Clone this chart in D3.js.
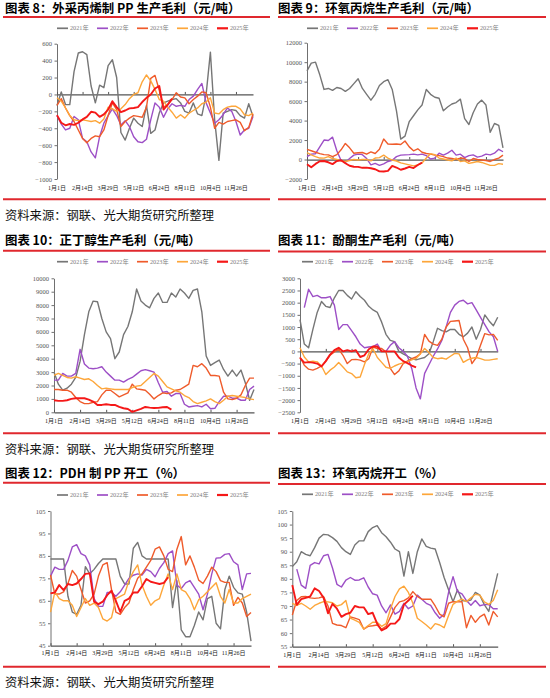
<!DOCTYPE html>
<html><head><meta charset="utf-8">
<script src="https://cdn.jsdelivr.net/npm/d3@7"></script>
<style>body{margin:0;background:#fff} svg{display:block}</style>
</head><body>
<svg id="c" width="550" height="698"></svg>
<script>
// ---------- categories / labels ----------
const years = ["2021年","2022年","2023年","2024年","2025年"];
const xTickLabels = ["1月1日","2月14日","3月29日","5月12日","6月24日","8月11日","10月4日","11月26日"];
const xTickIdx = [0,6,12,18,24,30,36,42];
const weekCount = 47;

// ---------- 图表8 外采丙烯制PP生产毛利 ----------
const p8_2021 = [-130,30,-120,-120,270,490,505,470,100,-100,110,80,340,410,200,-450,-540,-400,-280,-340,-380,-130,-460,-420,-220,-100,-80,-60,-50,-100,-200,-220,-100,-230,-250,0,500,-300,-780,-220,-200,-180,-190,-250,-280,-110,-260];
const p8_2022 = [-250,-350,-420,-400,-260,-300,-520,-560,-680,-750,-500,-340,-250,-170,-250,-360,-310,-380,-500,-560,-570,-530,-300,-100,-150,-270,-170,-110,-140,-130,-140,-60,-20,60,130,-100,-220,-340,-300,-240,-160,-200,-320,-480,-420,-400,-260];
const p8_2023 = [-130,-50,-160,-250,-320,-420,-520,-570,-520,-490,-500,-420,-250,-100,-180,-380,-320,-280,-250,-260,-270,-150,190,225,50,-150,-120,-60,20,-30,-40,-110,-60,-20,30,20,-150,-400,-330,-350,-320,-310,-300,-330,-430,-390,-230];
const p8_2024 = [-40,-80,-160,-250,-300,-310,-300,-310,-320,-310,-340,-290,-150,-170,-200,-170,-120,-50,0,20,150,230,160,60,-60,-80,-150,-210,-280,-240,-280,-220,-190,-160,-110,-90,-40,-220,-230,-180,-150,-140,-140,-170,-240,-250,-220];
const p8_2025 = [-245,-335,-365,-350,-360,-335,-295,-265,-205,-215,-265,-235,-180,-80,-150,-210,-190,-165,-160,-150,-90,-40,0,70,100,-180,-120,-50];

// ---------- 图表9 环氧丙烷生产毛利 ----------
const p9_2021 = [9100,9900,10000,8700,7200,7300,7100,7400,7300,7000,7300,7800,8300,7300,6700,6100,6700,7600,8000,8200,7200,5000,2100,2400,3900,4500,5100,5600,7200,6700,6400,6300,5000,5400,5700,5850,6200,4200,3600,4800,5700,6100,5600,2800,3700,3500,1200];
const p9_2022 = [300,550,600,1300,2000,1950,2300,900,-100,-300,100,450,550,500,100,-550,-400,-600,-450,-200,-80,300,450,480,500,550,480,550,400,50,150,650,450,650,950,450,550,200,400,480,250,350,550,480,650,1050,800];
const p9_2023 = [1050,900,750,600,500,480,300,500,1000,1650,1200,650,700,720,550,780,620,1050,2100,1600,1570,1600,1550,1900,1300,900,1100,750,620,550,450,400,300,150,100,0,150,100,-200,100,0,-50,-100,-200,0,150,450];
const p9_2024 = [700,480,300,150,140,300,100,0,-140,-200,-100,0,-50,0,0,-140,150,200,450,150,-50,-150,-350,-450,-550,-650,-550,-350,150,600,500,150,50,-50,-140,140,-200,-140,-400,-300,-200,-300,-450,-600,-600,-420,-480];
const p9_2025 = [-480,-800,-450,-180,-150,-280,-470,-160,-80,-380,-640,-740,-750,-850,-830,-900,-1000,-1220,-1230,-1160,-650,-820,-1050,-920,-760,-880,-560,-320];

// ---------- 图表10 正丁醇生产毛利 ----------
const p10_2021 = [3000,2100,1650,1800,2100,2600,3800,5800,7500,8300,8250,7000,6000,5500,4000,4500,5800,6400,7500,9200,8300,8000,7800,8500,8900,8200,8200,8900,8600,9200,8900,8500,9100,9200,7500,4200,3500,3700,3900,3200,2700,3150,2700,3150,2200,900,1700];
const p10_2022 = [2400,2400,2900,2700,2700,2900,4700,3600,3300,3250,3300,3400,3000,2700,2400,2400,2250,2450,2600,2850,3100,3180,3100,3000,2200,1500,1550,1200,1400,1400,600,400,450,500,400,600,270,300,800,1200,1200,1050,1050,900,900,1700,1950];
const p10_2023 = [1700,1700,1650,1650,1500,1100,800,650,650,750,800,1300,1650,1650,1400,1150,1300,1450,2100,1750,1700,1650,1350,1000,1250,1450,1400,1450,1650,1700,1900,2100,3500,3400,3630,3300,2750,2750,2700,1500,1000,950,1050,1300,2000,2550,2550];
const p10_2024 = [2750,2900,2750,2600,2550,2650,2550,2450,2500,2300,2000,1750,1800,1750,1700,1700,1700,1700,1850,1950,2000,2300,2600,2900,2700,2300,1900,1750,1600,1500,1250,1100,800,650,750,850,1000,800,650,900,1200,1250,1200,1150,1100,1000,950];
const p10_2025 = [900,850,850,900,1000,1050,1050,1050,950,800,550,550,600,550,550,400,300,250,30,150,250,400,350,320,330,380,400,200];

// ---------- 图表11 酚酮生产毛利 ----------
const p11_2021 = [1300,300,150,900,1600,2050,1850,1800,2200,2500,2500,2300,2150,2450,2250,2100,1850,1700,1600,1200,700,450,400,0,-100,-200,-300,-350,-300,-250,-100,400,950,850,800,900,900,700,600,750,1000,500,900,1500,1250,1050,1400];
const p11_2022 = [null,1800,2550,2250,2300,2200,2200,2250,1900,900,1100,1100,850,600,300,150,180,200,300,0,0,250,400,150,0,-200,-700,-1500,-1950,-900,-550,-200,100,450,1000,1600,1900,2050,2100,1950,2000,1700,1400,1100,800,600,0];
const p11_2023 = [-230,-570,-730,-770,-700,-600,-400,-160,-20,90,-160,-500,-340,-330,-360,-430,-300,180,120,120,-20,-700,-950,-800,-500,-400,-300,-230,-100,700,420,300,250,500,1000,1230,1250,1270,500,150,-500,-250,250,730,680,700,450];
const p11_2024 = [150,-230,-430,-400,-430,-600,-950,-770,-640,-460,-640,-840,-910,-1080,-1050,-540,-100,100,-250,-450,-650,-700,-600,-520,-470,-420,-350,-290,-100,120,-50,-250,-300,-270,-320,-200,-80,-100,-450,-350,-280,-250,-300,-360,-360,-330,-300];
const p11_2025 = [-270,-460,-440,-460,-500,-620,-400,-130,50,150,0,50,0,50,-230,-160,90,200,200,0,0,0,0,-250,-400,-480,-580,-660];

// ---------- 图表12 PDH制PP开工 ----------
const p12_2021 = [83.6,83.6,83.6,83.6,67,60,59,63,80.2,77,79,81.6,83.6,83.6,83.6,83.6,76,72.5,72.5,88.4,91,85,83.6,83.6,83.6,83.6,83.6,83.6,62,74,52,49,49,54,60,56.5,66,67,55,52.5,70,76,71,68.5,68,60,47];
const p12_2022 = [76,80,79,79,83,89,90,86,85,81,66,62.5,62.5,68.7,68.7,67,69,72,75,76.4,77,76.5,79,78,75.7,79.4,82,86,87.2,72,70.5,73,74,71,68,61,68,77,84,84.2,85.7,86,82.4,81,70,77,77.2];
const p12_2023 = [76.5,68,68,69,72.7,78.5,76,70,64,65,68,76,81,82,70,60,59,62,64,70,75,77,80,83,88,89,85,79,78,88,93.6,81,85,80,74.2,72.7,76,80,78,74,73.2,73.2,63,66.5,64,58,59.8];
const p12_2024 = [60,69,66,65,65,63,58,62,66,63,64,62,57,56,57.5,66,67,68,74,78,81,72,67,63,65,66,72,77,70,77,70,69,66,61,65.5,67,69,71,73,67,64,70,64,64,66,67,68];
const p12_2025 = [68.3,68.7,72,69.8,72.5,72,72.7,74.7,77,77.2,64.6,63.5,64.6,67.5,69.5,65,60,65,66,68.7,68.7,71.5,74.7,73.5,73,72.5,73,75.5];

// ---------- 图表13 环氧丙烷开工 ----------
const p13_2021 = [84.5,86.3,90,89,88.5,91.5,95,96.4,96.2,95.2,93.8,91.5,90,89,92.5,94,94,97.4,98.9,99.6,97,95.5,93.5,91,90,81,90,82,90,94.7,92,91.3,91,86,80.5,76,71.6,76,72,71.8,72.2,75,74,70.5,68,75,82];
const p13_2022 = [null,83.6,77.7,76.5,85,86,85.5,88.5,89,84,78,77,79.5,80.5,79.5,79.6,80.4,77,74.5,74,70,67.5,70.4,67,68,71,69,70,74,72.5,71,70.2,67.5,65.5,67,75,80.8,75.3,74.5,72,70.3,72,70.1,70.5,70.5,69,69];
const p13_2023 = [66.7,72,73.4,73.5,73,72.8,73,73.5,70,63.6,63,62.8,62,66,65.5,65,61.5,62.5,62.7,63,61.5,62.5,66,69.5,71.5,72,73,75.3,73.5,72.5,72.5,72.5,70,67,66,71,71.6,71.5,71.6,62,66.5,64,66,67,63,68,66];
const p13_2024 = [71,70.2,71,70,68.8,70.2,71,71.6,71.5,71.2,70,70.5,72,65.5,64.8,64,61.5,62.8,64,64,62.5,63.5,69,73.5,76.3,77.3,75,71,65.5,64.3,63,61.5,63.5,63,62,66.5,70.6,71.8,72.5,71.6,73,74.3,74,71.5,70.6,72,76];
const p13_2025 = [77.7,70.4,72.5,73,73.5,76.5,75.5,73,67.3,70.8,69,66,67,67.5,70,69.5,69.5,67,67.5,63.5,61,61.8,63.5,63.5,65.2,70.5,72,73.8];

// ---------- styles ----------
const colors = ["#767676","#9d4fc6","#ef5b2b","#fda63a","#f51818"];
const widths = [1.4,1.4,1.4,1.4,1.9];
const RED = "#e0282e";
const serif = "'Liberation Serif','Noto Sans CJK SC',serif";
const cjk = "'Noto Sans CJK SC','Noto Sans',sans-serif";

const panels = [
  {title:"图表 8：外采丙烯制 PP 生产毛利（元/吨）", series:[p8_2021,p8_2022,p8_2023,p8_2024,p8_2025],
   yMin:-1000,yMax:600,yStep:200,axisAt:0, x0:57,x1:253,yT:43.7,yB:179, tx:5,ty:12.7, rl:[3,270],rlY:17,bY:199.3, lgX:57,lgY:28.3, xlY:188.3},
  {title:"图表 9：环氧丙烷生产毛利（元/吨）", series:[p9_2021,p9_2022,p9_2023,p9_2024,p9_2025],
   yMin:-2000,yMax:12000,yStep:2000,axisAt:0, x0:307,x1:503,yT:42.7,yB:179, tx:278,ty:12.7, rl:[278,546],rlY:17,bY:199.3, lgX:307,lgY:28.3, xlY:188.3},
  {title:"图表 10：正丁醇生产毛利（元/吨）", series:[p10_2021,p10_2022,p10_2023,p10_2024,p10_2025],
   yMin:0,yMax:10000,yStep:1000,axisAt:0, x0:54,x1:254,yT:278.3,yB:412.3, tx:5,ty:245.3, rl:[3,270],rlY:250.8,bY:433.3, lgX:57,lgY:261.7, xlY:420.7},
  {title:"图表 11：酚酮生产毛利（元/吨）", series:[p11_2021,p11_2022,p11_2023,p11_2024,p11_2025],
   yMin:-2500,yMax:3000,yStep:500,axisAt:0, x0:300,x1:497.7,yT:278.3,yB:412.3, tx:278,ty:245.3, rl:[278,546],rlY:251.5,bY:433.3, lgX:302,lgY:261.7, xlY:420.7},
  {title:"图表 12：PDH 制 PP 开工（%）", series:[p12_2021,p12_2022,p12_2023,p12_2024,p12_2025],
   yMin:45,yMax:105,yStep:10,axisAt:45, x0:50.5,x1:251,yT:511,yB:645.7, tx:5,ty:478.3, rl:[3,270],rlY:482.8,bY:666.7, lgX:57,lgY:495, xlY:653.3},
  {title:"图表 13：环氧丙烷开工（%）", series:[p13_2021,p13_2022,p13_2023,p13_2024,p13_2025],
   yMin:55,yMax:105,yStep:5,axisAt:55, x0:292.3,x1:497.7,yT:511,yB:646.7, tx:278,ty:478.3, rl:[278,546],rlY:484,bY:666.7, lgX:302,lgY:494.3, xlY:655}
];

const sources = [{x:5,y:219.5},{x:5,y:454},{x:5,y:687.3}];

const svg = d3.select("#c");
svg.append("rect").attr("width",550).attr("height",698).attr("fill","#fff");

panels.forEach(p => {
  const g = svg.append("g");
  const x = d3.scaleLinear().domain([0, weekCount-1]).range([p.x0, p.x1]);
  const y = d3.scaleLinear().domain([p.yMin, p.yMax]).range([p.yB, p.yT]);

  // title and red rules
  g.append("text").attr("x",p.tx).attr("y",p.ty).text(p.title)
    .attr("font-family",cjk).attr("font-weight","bold").attr("font-size",12.4).attr("fill","#000");
  [p.rlY, p.bY].forEach(yy => g.append("line").attr("x1",p.rl[0]).attr("x2",p.rl[1])
    .attr("y1",yy).attr("y2",yy).attr("stroke",RED).attr("stroke-width",2));

  // legend
  years.forEach((yr,k) => {
    const lx = p.lgX + k*40;
    g.append("line").attr("x1",lx).attr("x2",lx+11).attr("y1",p.lgY).attr("y2",p.lgY)
      .attr("stroke",colors[k]).attr("stroke-width",widths[k]+0.3);
    g.append("text").attr("x",lx+13).attr("y",p.lgY).attr("dy","0.35em").text(yr)
      .attr("font-family",serif).attr("font-size",6.2).attr("fill","#808080");
  });

  // y axis
  const yt = d3.range(p.yMin, p.yMax + p.yStep/2, p.yStep);
  const ya = g.append("g").attr("transform",`translate(${p.x0},0)`)
    .call(d3.axisLeft(y).tickValues(yt).tickSize(2.5).tickSizeOuter(0).tickPadding(2.5).tickFormat(d3.format("d")));
  ya.select(".domain").attr("stroke","#707070").attr("stroke-width",1);
  ya.selectAll(".tick line").attr("stroke","#707070");
  ya.selectAll("text").attr("font-family",serif).attr("font-size",6.5).attr("fill","#555");

  // x axis line (at zero / bottom)
  const xa = g.append("g").attr("transform",`translate(0,${y(p.axisAt)})`)
    .call(d3.axisBottom(x).tickValues(xTickIdx).tickSize(-2.5).tickSizeOuter(0).tickFormat(""));
  xa.select(".domain").attr("stroke","#555").attr("stroke-width",1.3);
  xa.selectAll(".tick line").attr("stroke","#555");

  // x labels at bottom
  g.selectAll(".xl").data(xTickIdx).enter().append("text")
    .attr("x",d=>x(d)).attr("y",p.xlY).attr("dy","0.35em").attr("text-anchor","middle")
    .text((d,i)=>xTickLabels[i])
    .attr("font-family",serif).attr("font-size",6).attr("fill","#222");

  // series
  const line = d3.line().defined(d => d != null).x((d,i) => x(i)).y(d => y(d));
  p.series.forEach((arr,k) => {
    g.append("path").datum(arr).attr("d",line).attr("fill","none")
      .attr("stroke",colors[k]).attr("stroke-width",widths[k]).attr("stroke-linejoin","round");
  });
});

sources.forEach(s => svg.append("text").attr("x",s.x).attr("y",s.y).text("资料来源：钢联、光大期货研究所整理")
  .attr("font-family",cjk).attr("font-size",12.3).attr("fill","#111"));
</script>
</body></html>
